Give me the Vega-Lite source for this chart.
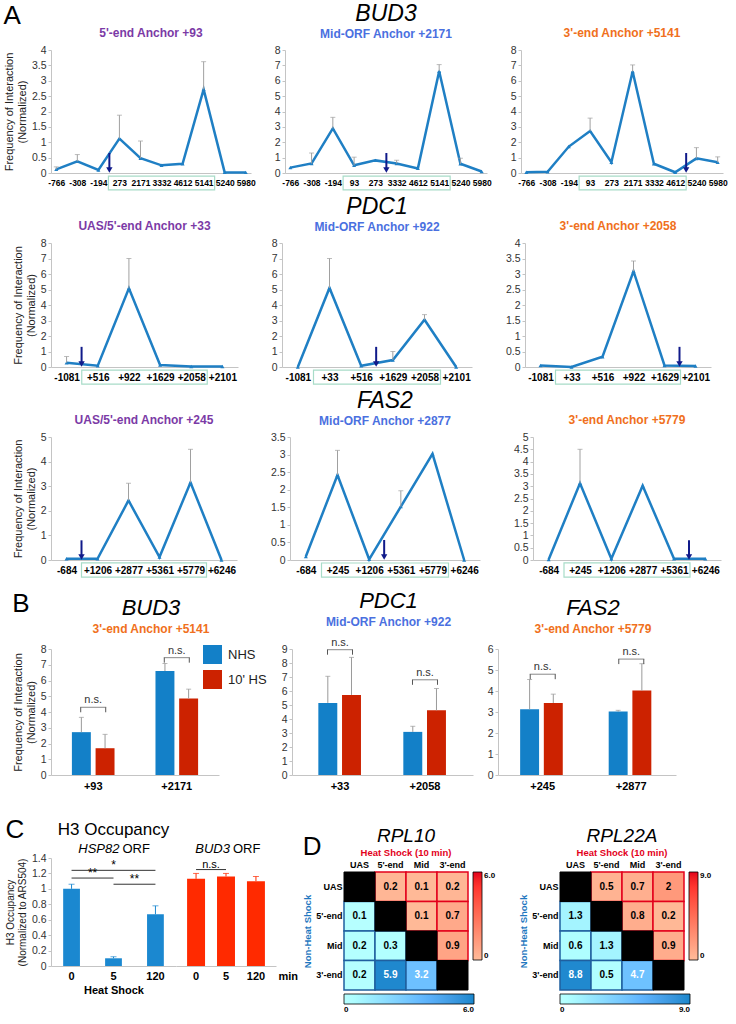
{
"$schema":"https://vega.github.io/schema/vega-lite/v6.json",
"padding":{"left":3,"top":3,"right":3,"bottom":0},
"background":"white",
"config":{"font":"Liberation Sans","view":{"stroke":null},
 "axis":{"grid":false,"domainColor":"#c4c4c4","tickColor":"#c4c4c4","labelColor":"#222","titleFontWeight":"normal","titleColor":"#222","labelFont":"Liberation Sans","titleFont":"Liberation Sans"},
 "title":{"fontWeight":"normal","color":"#000","font":"Liberation Sans","subtitleFont":"Liberation Sans"},
 "tick":{"thickness":1},
 "legend":{"labelFont":"Liberation Sans"}
},
"datasets":{
"L":[
{"p":"A1","x":"-766","v":0.12,"hi":0.2},{"p":"A1","x":"-308","v":0.38,"hi":0.6},{"p":"A1","x":"-194","v":0.1,"arrow":true},{"p":"A1","x":"273","v":1.12,"hi":1.88,"box":"5141"},{"p":"A1","x":"2171","v":0.48,"hi":1.04},{"p":"A1","x":"3332","v":0.25},{"p":"A1","x":"4612","v":0.3},{"p":"A1","x":"5141","v":2.72,"hi":3.62},{"p":"A1","x":"5240","v":0.02},{"p":"A1","x":"5980","v":0.02},
{"p":"A2","x":"-766","v":0.35},{"p":"A2","x":"-308","v":0.62,"hi":1.3},{"p":"A2","x":"-194","v":2.9,"hi":3.62},{"p":"A2","x":"93","v":0.5,"hi":1.03,"box":"5141"},{"p":"A2","x":"273","v":0.82,"arrow":true},{"p":"A2","x":"3332","v":0.62,"hi":0.83},{"p":"A2","x":"4612","v":0.3},{"p":"A2","x":"5141","v":6.62,"hi":7.05},{"p":"A2","x":"5240","v":0.6,"hi":0.96},{"p":"A2","x":"5980","v":0.1},
{"p":"A3","x":"-766","v":0.05},{"p":"A3","x":"-308","v":0.08},{"p":"A3","x":"-194","v":1.72},{"p":"A3","x":"93","v":2.73,"hi":3.57,"box":"4612"},{"p":"A3","x":"273","v":0.7},{"p":"A3","x":"2171","v":6.6,"hi":7.03},{"p":"A3","x":"3332","v":0.6},{"p":"A3","x":"4612","v":0.05,"arrow":true},{"p":"A3","x":"5240","v":0.95,"hi":1.65},{"p":"A3","x":"5980","v":0.7,"hi":1.05},
{"p":"B1","x":"-1081","v":0.28,"hi":0.67,"arrow":true},{"p":"B1","x":"+516","v":0.08,"box":"+2058"},{"p":"B1","x":"+922","v":5.08,"hi":7.0},{"p":"B1","x":"+1629","v":0.13},{"p":"B1","x":"+2058","v":0.03},{"p":"B1","x":"+2101","v":0.03},
{"p":"B2","x":"-1081","v":0},{"p":"B2","x":"+33","v":5.1,"hi":7.0,"box":"+2058"},{"p":"B2","x":"+516","v":0.08,"arrow":true},{"p":"B2","x":"+1629","v":0.45,"hi":1.0},{"p":"B2","x":"+2058","v":3.05,"hi":3.38},{"p":"B2","x":"+2101","v":0},
{"p":"B3","x":"-1081","v":0.05},{"p":"B3","x":"+33","v":0.0,"box":"+1629"},{"p":"B3","x":"+516","v":0.33},{"p":"B3","x":"+922","v":3.09,"hi":3.42},{"p":"B3","x":"+1629","v":0.05,"arrow":true},{"p":"B3","x":"+2101","v":0.03},
{"p":"C1","x":"-684","v":0.05,"arrow":true},{"p":"C1","x":"+1206","v":0.05,"box":"+5779"},{"p":"C1","x":"+2877","v":2.42,"hi":3.12},{"p":"C1","x":"+5361","v":0.12},{"p":"C1","x":"+5779","v":3.15,"hi":4.5},{"p":"C1","x":"+6246","v":0},
{"p":"C2","x":"-684","v":0.1},{"p":"C2","x":"+245","v":2.42,"hi":3.12,"box":"+5779"},{"p":"C2","x":"+1206","v":0.02,"arrow":true},{"p":"C2","x":"+5361","v":1.52,"hi":1.97},{"p":"C2","x":"+5779","v":3.02},{"p":"C2","x":"+6246","v":0},
{"p":"C3","x":"-684","v":0.02},{"p":"C3","x":"+245","v":3.12,"hi":4.5,"box":"+5361"},{"p":"C3","x":"+1206","v":0.05},{"p":"C3","x":"+2877","v":3.02},{"p":"C3","x":"+5361","v":0.05,"arrow":true},{"p":"C3","x":"+6246","v":0.05}
],
"bars":[
{"g":"BUD3","pos":"+93","c":"NHS","v":2.72,"hi":3.66,"ns":4.3},{"g":"BUD3","pos":"+93","c":"10' HS","v":1.7,"hi":2.58},
{"g":"BUD3","pos":"+2171","c":"NHS","v":6.6,"hi":7.08,"ns":7.45},{"g":"BUD3","pos":"+2171","c":"10' HS","v":4.85,"hi":5.45},
{"g":"PDC1","pos":"+33","c":"NHS","v":5.15,"hi":7.05,"ns":8.95},{"g":"PDC1","pos":"+33","c":"10' HS","v":5.72,"hi":8.4},
{"g":"PDC1","pos":"+2058","c":"NHS","v":3.08,"hi":3.48,"ns":6.8},{"g":"PDC1","pos":"+2058","c":"10' HS","v":4.62,"hi":6.18},
{"g":"FAS2","pos":"+245","c":"NHS","v":3.13,"hi":4.55,"ns":4.8},{"g":"FAS2","pos":"+245","c":"10' HS","v":3.43,"hi":3.85},
{"g":"FAS2","pos":"+2877","c":"NHS","v":3.02,"hi":3.08,"ns":5.52},{"g":"FAS2","pos":"+2877","c":"10' HS","v":4.02,"hi":5.3}
],
"h3":[
{"g":"HSP82","t":"0","v":1.0,"hi":1.06},{"g":"HSP82","t":"5","v":0.1,"hi":0.12},{"g":"HSP82","t":"120","v":0.67,"hi":0.78},
{"g":"BUD3","t":"0","v":1.13,"hi":1.2},{"g":"BUD3","t":"5","v":1.16,"hi":1.2},{"g":"BUD3","t":"120","v":1.1,"hi":1.16}
],
"sig":[
{"g":"HSP82","a":"0","b":"120","y":1.24,"s":"*"},{"g":"HSP82","a":"0","b":"5","y":1.14,"s":"**"},{"g":"HSP82","a":"5","b":"120","y":1.06,"s":"**"},
{"g":"BUD3","a":"0","b":"5","y":1.25,"s":"n.s."}
],
"heat":[
{"g":"RPL10","r":"UAS","c":"UAS","t":"d"},{"g":"RPL10","r":"UAS","c":"5'-end","t":"hs","v":0.2},{"g":"RPL10","r":"UAS","c":"Mid","t":"hs","v":0.1},{"g":"RPL10","r":"UAS","c":"3'-end","t":"hs","v":0.2},
{"g":"RPL10","r":"5'-end","c":"UAS","t":"nhs","v":0.1},{"g":"RPL10","r":"5'-end","c":"5'-end","t":"d"},{"g":"RPL10","r":"5'-end","c":"Mid","t":"hs","v":0.1},{"g":"RPL10","r":"5'-end","c":"3'-end","t":"hs","v":0.7},
{"g":"RPL10","r":"Mid","c":"UAS","t":"nhs","v":0.2},{"g":"RPL10","r":"Mid","c":"5'-end","t":"nhs","v":0.3},{"g":"RPL10","r":"Mid","c":"Mid","t":"d"},{"g":"RPL10","r":"Mid","c":"3'-end","t":"hs","v":0.9},
{"g":"RPL10","r":"3'-end","c":"UAS","t":"nhs","v":0.2},{"g":"RPL10","r":"3'-end","c":"5'-end","t":"nhs","v":5.9},{"g":"RPL10","r":"3'-end","c":"Mid","t":"nhs","v":3.2},{"g":"RPL10","r":"3'-end","c":"3'-end","t":"d"},
{"g":"RPL22A","r":"UAS","c":"UAS","t":"d"},{"g":"RPL22A","r":"UAS","c":"5'-end","t":"hs","v":0.5},{"g":"RPL22A","r":"UAS","c":"Mid","t":"hs","v":0.7},{"g":"RPL22A","r":"UAS","c":"3'-end","t":"hs","v":2},
{"g":"RPL22A","r":"5'-end","c":"UAS","t":"nhs","v":1.3},{"g":"RPL22A","r":"5'-end","c":"5'-end","t":"d"},{"g":"RPL22A","r":"5'-end","c":"Mid","t":"hs","v":0.8},{"g":"RPL22A","r":"5'-end","c":"3'-end","t":"hs","v":0.2},
{"g":"RPL22A","r":"Mid","c":"UAS","t":"nhs","v":0.6},{"g":"RPL22A","r":"Mid","c":"5'-end","t":"nhs","v":1.3},{"g":"RPL22A","r":"Mid","c":"Mid","t":"d"},{"g":"RPL22A","r":"Mid","c":"3'-end","t":"hs","v":0.9},
{"g":"RPL22A","r":"3'-end","c":"UAS","t":"nhs","v":8.8},{"g":"RPL22A","r":"3'-end","c":"5'-end","t":"nhs","v":0.5},{"g":"RPL22A","r":"3'-end","c":"Mid","t":"nhs","v":4.7},{"g":"RPL22A","r":"3'-end","c":"3'-end","t":"d"}
]
},
"resolve":{"scale":{"color":"independent","fill":"independent"},"legend":{"color":"independent","fill":"independent"}},
"spacing":11,
"vconcat":[
{
 "title":{"text":"A","anchor":"start","fontSize":26,"offset":-26,"frame":"bounds"},
 "spacing":5,
 "vconcat":[
  {"spacing":18,"hconcat":[
   {"width":200,"height":123,
    "title":{"text":"5'-end Anchor +93","color":"#7b3aa6","fontSize":12,"fontWeight":"bold","offset":5},
    "data":{"name":"L"},"transform":[{"filter":"datum.p=='A1'"}],
    "encoding":{"x":{"field":"x","type":"ordinal","scale":{"type":"point","padding":0.25,"domain":["-766","-308","-194","273","2171","3332","4612","5141","5240","5980"]},"axis":{"title":null,"labelAngle":0,"labelFontWeight":"bold","labelFontSize":8.5,"labelColor":"#000","ticks":false,"labelPadding":5,"labelOverlap":false}}},
    "layer":[
     {"mark":{"type":"line","color":"#1f7fc4","strokeWidth":2.5,"point":{"shape":"triangle-up","size":16,"filled":true,"color":"#1f7fc4"}},"encoding":{"order":{"value":null},"y":{"field":"v","type":"quantitative","scale":{"domain":[0,4],"nice":false},"axis":{"title":["Frequency of Interaction","(Normalized)"],"titleFontSize":11,"titlePadding":4,"labelFontSize":10.5,"labelColor":"#333","tickSize":3,"labelPadding":2,"format":"~g","labelOverlap":false,"tickCount":20,"values":[0,0.5,1,1.5,2,2.5,3,3.5,4]}}}},
     {"transform":[{"filter":"isValid(datum.hi)"}],"mark":{"type":"rule","color":"#a0a0a0"},"encoding":{"y":{"field":"v","type":"quantitative"},"y2":{"field":"hi"}}},
     {"transform":[{"filter":"isValid(datum.hi)"}],"mark":{"type":"tick","color":"#a0a0a0","size":5},"encoding":{"y":{"field":"hi","type":"quantitative"}}},
     {"transform":[{"filter":"isValid(datum.box)"}],"mark":{"type":"rect","fill":"transparent","stroke":"#a8dcc8","strokeWidth":1.2,"xOffset":-11,"x2Offset":11},"encoding":{"x2":{"field":"box"},"y":{"datum":-0.1},"y2":{"datum":-0.55}}},
     {"transform":[{"filter":"datum.arrow"}],"mark":{"type":"rule","color":"#101a8a","strokeWidth":2,"xOffset":11},"encoding":{"y":{"datum":0.65},"y2":{"datum":0.15}}},
     {"transform":[{"filter":"datum.arrow"}],"mark":{"type":"point","shape":"triangle-down","filled":true,"color":"#101a8a","opacity":1,"size":40,"xOffset":11,"yOffset":-3},"encoding":{"y":{"datum":0}}}
    ]},
   {"width":202,"height":123,
    "title":{"text":"BUD3","subtitle":"Mid-ORF Anchor +2171","fontSize":23,"fontStyle":"italic","subtitleColor":"#4a70e0","subtitleFontWeight":"bold","subtitleFontSize":12,"subtitlePadding":3,"offset":5},
    "data":{"name":"L"},"transform":[{"filter":"datum.p=='A2'"}],
    "encoding":{"x":{"field":"x","type":"ordinal","scale":{"type":"point","padding":0.25,"domain":["-766","-308","-194","93","273","3332","4612","5141","5240","5980"]},"axis":{"title":null,"labelAngle":0,"labelFontWeight":"bold","labelFontSize":8.5,"labelColor":"#000","ticks":false,"labelPadding":5,"labelOverlap":false}}},
    "layer":[
     {"mark":{"type":"line","color":"#1f7fc4","strokeWidth":2.5,"point":{"shape":"triangle-up","size":16,"filled":true,"color":"#1f7fc4"}},"encoding":{"order":{"value":null},"y":{"field":"v","type":"quantitative","scale":{"domain":[0,8],"nice":false},"axis":{"title":null,"labelFontSize":10.5,"labelColor":"#333","tickSize":3,"labelPadding":2,"format":"~g","labelOverlap":false,"tickCount":20,"values":[0,1,2,3,4,5,6,7,8]}}}},
     {"transform":[{"filter":"isValid(datum.hi)"}],"mark":{"type":"rule","color":"#a0a0a0"},"encoding":{"y":{"field":"v","type":"quantitative"},"y2":{"field":"hi"}}},
     {"transform":[{"filter":"isValid(datum.hi)"}],"mark":{"type":"tick","color":"#a0a0a0","size":5},"encoding":{"y":{"field":"hi","type":"quantitative"}}},
     {"transform":[{"filter":"isValid(datum.box)"}],"mark":{"type":"rect","fill":"transparent","stroke":"#a8dcc8","strokeWidth":1.2,"xOffset":-11,"x2Offset":11},"encoding":{"x2":{"field":"box"},"y":{"datum":-0.2},"y2":{"datum":-1.1}}},
     {"transform":[{"filter":"datum.arrow"}],"mark":{"type":"rule","color":"#101a8a","strokeWidth":2,"xOffset":11},"encoding":{"y":{"datum":1.3},"y2":{"datum":0.3}}},
     {"transform":[{"filter":"datum.arrow"}],"mark":{"type":"point","shape":"triangle-down","filled":true,"color":"#101a8a","opacity":1,"size":40,"xOffset":11,"yOffset":-3},"encoding":{"y":{"datum":0}}}
    ]},
   {"width":202,"height":123,
    "title":{"text":"3'-end Anchor +5141","color":"#f07020","fontSize":12,"fontWeight":"bold","offset":5},
    "data":{"name":"L"},"transform":[{"filter":"datum.p=='A3'"}],
    "encoding":{"x":{"field":"x","type":"ordinal","scale":{"type":"point","padding":0.25,"domain":["-766","-308","-194","93","273","2171","3332","4612","5240","5980"]},"axis":{"title":null,"labelAngle":0,"labelFontWeight":"bold","labelFontSize":8.5,"labelColor":"#000","ticks":false,"labelPadding":5,"labelOverlap":false}}},
    "layer":[
     {"mark":{"type":"line","color":"#1f7fc4","strokeWidth":2.5,"point":{"shape":"triangle-up","size":16,"filled":true,"color":"#1f7fc4"}},"encoding":{"order":{"value":null},"y":{"field":"v","type":"quantitative","scale":{"domain":[0,8],"nice":false},"axis":{"title":null,"labelFontSize":10.5,"labelColor":"#333","tickSize":3,"labelPadding":2,"format":"~g","labelOverlap":false,"tickCount":20,"values":[0,1,2,3,4,5,6,7,8]}}}},
     {"transform":[{"filter":"isValid(datum.hi)"}],"mark":{"type":"rule","color":"#a0a0a0"},"encoding":{"y":{"field":"v","type":"quantitative"},"y2":{"field":"hi"}}},
     {"transform":[{"filter":"isValid(datum.hi)"}],"mark":{"type":"tick","color":"#a0a0a0","size":5},"encoding":{"y":{"field":"hi","type":"quantitative"}}},
     {"transform":[{"filter":"isValid(datum.box)"}],"mark":{"type":"rect","fill":"transparent","stroke":"#a8dcc8","strokeWidth":1.2,"xOffset":-11,"x2Offset":11},"encoding":{"x2":{"field":"box"},"y":{"datum":-0.2},"y2":{"datum":-1.1}}},
     {"transform":[{"filter":"datum.arrow"}],"mark":{"type":"rule","color":"#101a8a","strokeWidth":2,"xOffset":11},"encoding":{"y":{"datum":1.3},"y2":{"datum":0.3}}},
     {"transform":[{"filter":"datum.arrow"}],"mark":{"type":"point","shape":"triangle-down","filled":true,"color":"#101a8a","opacity":1,"size":40,"xOffset":11,"yOffset":-3},"encoding":{"y":{"datum":0}}}
    ]}
  ]},
  {"spacing":33,"hconcat":[
   {"width":187,"height":124,
    "title":{"text":"UAS/5'-end Anchor +33","color":"#7b3aa6","fontSize":12,"fontWeight":"bold","offset":5},
    "data":{"name":"L"},"transform":[{"filter":"datum.p=='B1'"}],
    "encoding":{"x":{"field":"x","type":"ordinal","scale":{"type":"point","padding":0.5,"domain":["-1081","+516","+922","+1629","+2058","+2101"]},"axis":{"title":null,"labelAngle":0,"labelFontWeight":"bold","labelFontSize":10,"labelColor":"#000","ticks":false,"labelPadding":5,"labelOverlap":false}}},
    "layer":[
     {"mark":{"type":"line","color":"#1f7fc4","strokeWidth":2.5,"point":{"shape":"triangle-up","size":16,"filled":true,"color":"#1f7fc4"}},"encoding":{"order":{"value":null},"y":{"field":"v","type":"quantitative","scale":{"domain":[0,8],"nice":false},"axis":{"title":["Frequency of Interaction","(Normalized)"],"titleFontSize":11,"titlePadding":4,"labelFontSize":10.5,"labelColor":"#333","tickSize":3,"labelPadding":2,"format":"~g","labelOverlap":false,"tickCount":20,"values":[0,1,2,3,4,5,6,7,8]}}}},
     {"transform":[{"filter":"isValid(datum.hi)"}],"mark":{"type":"rule","color":"#a0a0a0"},"encoding":{"y":{"field":"v","type":"quantitative"},"y2":{"field":"hi"}}},
     {"transform":[{"filter":"isValid(datum.hi)"}],"mark":{"type":"tick","color":"#a0a0a0","size":5},"encoding":{"y":{"field":"hi","type":"quantitative"}}},
     {"transform":[{"filter":"isValid(datum.box)"}],"mark":{"type":"rect","fill":"transparent","stroke":"#a8dcc8","strokeWidth":1.2,"xOffset":-16,"x2Offset":16},"encoding":{"x2":{"field":"box"},"y":{"datum":-0.2},"y2":{"datum":-1.1}}},
     {"transform":[{"filter":"datum.arrow"}],"mark":{"type":"rule","color":"#101a8a","strokeWidth":2,"xOffset":15},"encoding":{"y":{"datum":1.3},"y2":{"datum":0.3}}},
     {"transform":[{"filter":"datum.arrow"}],"mark":{"type":"point","shape":"triangle-down","filled":true,"color":"#101a8a","opacity":1,"size":40,"xOffset":15,"yOffset":-3},"encoding":{"y":{"datum":0}}}
    ]},
   {"width":190,"height":124,
    "title":{"text":"PDC1","subtitle":"Mid-ORF Anchor +922","fontSize":23,"fontStyle":"italic","subtitleColor":"#4a70e0","subtitleFontWeight":"bold","subtitleFontSize":12,"subtitlePadding":3,"offset":5},
    "data":{"name":"L"},"transform":[{"filter":"datum.p=='B2'"}],
    "encoding":{"x":{"field":"x","type":"ordinal","scale":{"type":"point","padding":0.5,"domain":["-1081","+33","+516","+1629","+2058","+2101"]},"axis":{"title":null,"labelAngle":0,"labelFontWeight":"bold","labelFontSize":10,"labelColor":"#000","ticks":false,"labelPadding":5,"labelOverlap":false}}},
    "layer":[
     {"mark":{"type":"line","color":"#1f7fc4","strokeWidth":2.5,"point":{"shape":"triangle-up","size":16,"filled":true,"color":"#1f7fc4"}},"encoding":{"order":{"value":null},"y":{"field":"v","type":"quantitative","scale":{"domain":[0,8],"nice":false},"axis":{"title":null,"labelFontSize":10.5,"labelColor":"#333","tickSize":3,"labelPadding":2,"format":"~g","labelOverlap":false,"tickCount":20,"values":[0,1,2,3,4,5,6,7,8]}}}},
     {"transform":[{"filter":"isValid(datum.hi)"}],"mark":{"type":"rule","color":"#a0a0a0"},"encoding":{"y":{"field":"v","type":"quantitative"},"y2":{"field":"hi"}}},
     {"transform":[{"filter":"isValid(datum.hi)"}],"mark":{"type":"tick","color":"#a0a0a0","size":5},"encoding":{"y":{"field":"hi","type":"quantitative"}}},
     {"transform":[{"filter":"isValid(datum.box)"}],"mark":{"type":"rect","fill":"transparent","stroke":"#a8dcc8","strokeWidth":1.2,"xOffset":-16,"x2Offset":16},"encoding":{"x2":{"field":"box"},"y":{"datum":-0.2},"y2":{"datum":-1.1}}},
     {"transform":[{"filter":"datum.arrow"}],"mark":{"type":"rule","color":"#101a8a","strokeWidth":2,"xOffset":15},"encoding":{"y":{"datum":1.3},"y2":{"datum":0.3}}},
     {"transform":[{"filter":"datum.arrow"}],"mark":{"type":"point","shape":"triangle-down","filled":true,"color":"#101a8a","opacity":1,"size":40,"xOffset":15,"yOffset":-3},"encoding":{"y":{"datum":0}}}
    ]},
   {"width":186,"height":124,
    "title":{"text":"3'-end Anchor +2058","color":"#f07020","fontSize":12,"fontWeight":"bold","offset":5},
    "data":{"name":"L"},"transform":[{"filter":"datum.p=='B3'"}],
    "encoding":{"x":{"field":"x","type":"ordinal","scale":{"type":"point","padding":0.5,"domain":["-1081","+33","+516","+922","+1629","+2101"]},"axis":{"title":null,"labelAngle":0,"labelFontWeight":"bold","labelFontSize":10,"labelColor":"#000","ticks":false,"labelPadding":5,"labelOverlap":false}}},
    "layer":[
     {"mark":{"type":"line","color":"#1f7fc4","strokeWidth":2.5,"point":{"shape":"triangle-up","size":16,"filled":true,"color":"#1f7fc4"}},"encoding":{"order":{"value":null},"y":{"field":"v","type":"quantitative","scale":{"domain":[0,4],"nice":false},"axis":{"title":null,"labelFontSize":10.5,"labelColor":"#333","tickSize":3,"labelPadding":2,"format":"~g","labelOverlap":false,"tickCount":20,"values":[0,0.5,1,1.5,2,2.5,3,3.5,4]}}}},
     {"transform":[{"filter":"isValid(datum.hi)"}],"mark":{"type":"rule","color":"#a0a0a0"},"encoding":{"y":{"field":"v","type":"quantitative"},"y2":{"field":"hi"}}},
     {"transform":[{"filter":"isValid(datum.hi)"}],"mark":{"type":"tick","color":"#a0a0a0","size":5},"encoding":{"y":{"field":"hi","type":"quantitative"}}},
     {"transform":[{"filter":"isValid(datum.box)"}],"mark":{"type":"rect","fill":"transparent","stroke":"#a8dcc8","strokeWidth":1.2,"xOffset":-16,"x2Offset":16},"encoding":{"x2":{"field":"box"},"y":{"datum":-0.1},"y2":{"datum":-0.55}}},
     {"transform":[{"filter":"datum.arrow"}],"mark":{"type":"rule","color":"#101a8a","strokeWidth":2,"xOffset":15},"encoding":{"y":{"datum":0.65},"y2":{"datum":0.15}}},
     {"transform":[{"filter":"datum.arrow"}],"mark":{"type":"point","shape":"triangle-down","filled":true,"color":"#101a8a","opacity":1,"size":40,"xOffset":15,"yOffset":-3},"encoding":{"y":{"datum":0}}}
    ]}
  ]},
  {"spacing":33,"hconcat":[
   {"width":186,"height":123,
    "title":{"text":"UAS/5'-end Anchor +245","color":"#7b3aa6","fontSize":12,"fontWeight":"bold","offset":5},
    "data":{"name":"L"},"transform":[{"filter":"datum.p=='C1'"}],
    "encoding":{"x":{"field":"x","type":"ordinal","scale":{"type":"point","padding":0.5,"domain":["-684","+1206","+2877","+5361","+5779","+6246"]},"axis":{"title":null,"labelAngle":0,"labelFontWeight":"bold","labelFontSize":10,"labelColor":"#000","ticks":false,"labelPadding":5,"labelOverlap":false}}},
    "layer":[
     {"mark":{"type":"line","color":"#1f7fc4","strokeWidth":2.5,"point":{"shape":"triangle-up","size":16,"filled":true,"color":"#1f7fc4"}},"encoding":{"order":{"value":null},"y":{"field":"v","type":"quantitative","scale":{"domain":[0,5],"nice":false},"axis":{"title":["Frequency of Interaction","(Normalized)"],"titleFontSize":11,"titlePadding":4,"labelFontSize":10.5,"labelColor":"#333","tickSize":3,"labelPadding":2,"format":"~g","labelOverlap":false,"tickCount":20,"values":[0,1,2,3,4,5]}}}},
     {"transform":[{"filter":"isValid(datum.hi)"}],"mark":{"type":"rule","color":"#a0a0a0"},"encoding":{"y":{"field":"v","type":"quantitative"},"y2":{"field":"hi"}}},
     {"transform":[{"filter":"isValid(datum.hi)"}],"mark":{"type":"tick","color":"#a0a0a0","size":5},"encoding":{"y":{"field":"hi","type":"quantitative"}}},
     {"transform":[{"filter":"isValid(datum.box)"}],"mark":{"type":"rect","fill":"transparent","stroke":"#a8dcc8","strokeWidth":1.2,"xOffset":-16,"x2Offset":16},"encoding":{"x2":{"field":"box"},"y":{"datum":-0.12},"y2":{"datum":-0.7}}},
     {"transform":[{"filter":"datum.arrow"}],"mark":{"type":"rule","color":"#101a8a","strokeWidth":2,"xOffset":15},"encoding":{"y":{"datum":0.8},"y2":{"datum":0.2}}},
     {"transform":[{"filter":"datum.arrow"}],"mark":{"type":"point","shape":"triangle-down","filled":true,"color":"#101a8a","opacity":1,"size":40,"xOffset":15,"yOffset":-3},"encoding":{"y":{"datum":0}}}
    ]},
   {"width":190,"height":123,
    "title":{"text":"FAS2","subtitle":"Mid-ORF Anchor +2877","fontSize":23,"fontStyle":"italic","subtitleColor":"#4a70e0","subtitleFontWeight":"bold","subtitleFontSize":12,"subtitlePadding":3,"offset":5},
    "data":{"name":"L"},"transform":[{"filter":"datum.p=='C2'"}],
    "encoding":{"x":{"field":"x","type":"ordinal","scale":{"type":"point","padding":0.5,"domain":["-684","+245","+1206","+5361","+5779","+6246"]},"axis":{"title":null,"labelAngle":0,"labelFontWeight":"bold","labelFontSize":10,"labelColor":"#000","ticks":false,"labelPadding":5,"labelOverlap":false}}},
    "layer":[
     {"mark":{"type":"line","color":"#1f7fc4","strokeWidth":2.5,"point":{"shape":"triangle-up","size":16,"filled":true,"color":"#1f7fc4"}},"encoding":{"order":{"value":null},"y":{"field":"v","type":"quantitative","scale":{"domain":[0,3.5],"nice":false},"axis":{"title":null,"labelFontSize":10.5,"labelColor":"#333","tickSize":3,"labelPadding":2,"format":"~g","labelOverlap":false,"tickCount":20,"values":[0,0.5,1,1.5,2,2.5,3,3.5]}}}},
     {"transform":[{"filter":"isValid(datum.hi)"}],"mark":{"type":"rule","color":"#a0a0a0"},"encoding":{"y":{"field":"v","type":"quantitative"},"y2":{"field":"hi"}}},
     {"transform":[{"filter":"isValid(datum.hi)"}],"mark":{"type":"tick","color":"#a0a0a0","size":5},"encoding":{"y":{"field":"hi","type":"quantitative"}}},
     {"transform":[{"filter":"isValid(datum.box)"}],"mark":{"type":"rect","fill":"transparent","stroke":"#a8dcc8","strokeWidth":1.2,"xOffset":-16,"x2Offset":16},"encoding":{"x2":{"field":"box"},"y":{"datum":-0.085},"y2":{"datum":-0.49}}},
     {"transform":[{"filter":"datum.arrow"}],"mark":{"type":"rule","color":"#101a8a","strokeWidth":2,"xOffset":15},"encoding":{"y":{"datum":0.57},"y2":{"datum":0.14}}},
     {"transform":[{"filter":"datum.arrow"}],"mark":{"type":"point","shape":"triangle-down","filled":true,"color":"#101a8a","opacity":1,"size":40,"xOffset":15,"yOffset":-3},"encoding":{"y":{"datum":0}}}
    ]},
   {"width":188,"height":123,
    "title":{"text":"3'-end Anchor +5779","color":"#f07020","fontSize":12,"fontWeight":"bold","offset":5},
    "data":{"name":"L"},"transform":[{"filter":"datum.p=='C3'"}],
    "encoding":{"x":{"field":"x","type":"ordinal","scale":{"type":"point","padding":0.5,"domain":["-684","+245","+1206","+2877","+5361","+6246"]},"axis":{"title":null,"labelAngle":0,"labelFontWeight":"bold","labelFontSize":10,"labelColor":"#000","ticks":false,"labelPadding":5,"labelOverlap":false}}},
    "layer":[
     {"mark":{"type":"line","color":"#1f7fc4","strokeWidth":2.5,"point":{"shape":"triangle-up","size":16,"filled":true,"color":"#1f7fc4"}},"encoding":{"order":{"value":null},"y":{"field":"v","type":"quantitative","scale":{"domain":[0,5],"nice":false},"axis":{"title":null,"labelFontSize":10.5,"labelColor":"#333","tickSize":3,"labelPadding":2,"format":"~g","labelOverlap":false,"tickCount":20,"values":[0,0.5,1,1.5,2,2.5,3,3.5,4,4.5,5]}}}},
     {"transform":[{"filter":"isValid(datum.hi)"}],"mark":{"type":"rule","color":"#a0a0a0"},"encoding":{"y":{"field":"v","type":"quantitative"},"y2":{"field":"hi"}}},
     {"transform":[{"filter":"isValid(datum.hi)"}],"mark":{"type":"tick","color":"#a0a0a0","size":5},"encoding":{"y":{"field":"hi","type":"quantitative"}}},
     {"transform":[{"filter":"isValid(datum.box)"}],"mark":{"type":"rect","fill":"transparent","stroke":"#a8dcc8","strokeWidth":1.2,"xOffset":-16,"x2Offset":16},"encoding":{"x2":{"field":"box"},"y":{"datum":-0.12},"y2":{"datum":-0.7}}},
     {"transform":[{"filter":"datum.arrow"}],"mark":{"type":"rule","color":"#101a8a","strokeWidth":2,"xOffset":15},"encoding":{"y":{"datum":0.8},"y2":{"datum":0.2}}},
     {"transform":[{"filter":"datum.arrow"}],"mark":{"type":"point","shape":"triangle-down","filled":true,"color":"#101a8a","opacity":1,"size":40,"xOffset":15,"yOffset":-3},"encoding":{"y":{"datum":0}}}
    ]}
  ]}
 ]
},
{
 "title":{"text":"B","anchor":"start","fontSize":26,"offset":-27,"frame":"bounds"},
 "spacing":14,
 "resolve":{"scale":{"color":"independent"},"legend":{"color":"independent"}},
 "hconcat":[
  {"width":168,"height":126,
   "title":{"text":"BUD3","subtitle":"3'-end Anchor +5141","fontSize":22,"fontStyle":"italic","subtitleColor":"#f07020","subtitleFontWeight":"bold","subtitleFontSize":12,"subtitlePadding":4,"offset":8,"frame":"group","dx":16},
   "data":{"name":"bars"},"transform":[{"filter":"datum.g=='BUD3'"}],
   "encoding":{"x":{"field":"pos","type":"nominal","sort":null,"scale":{"paddingInner":0.49,"paddingOuter":0.25},"axis":{"title":null,"labelAngle":0,"labelFontWeight":"bold","labelFontSize":11,"labelColor":"#000","ticks":false,"labelPadding":5}}},
   "layer":[
    {"mark":{"type":"bar"},"encoding":{"xOffset":{"field":"c","sort":["NHS","10' HS"],"scale":{"paddingInner":0.2}},"y":{"field":"v","type":"quantitative","scale":{"domain":[0,8],"nice":false},"axis":{"title":["Frequency of Interaction","(Normalized)"],"titleFontSize":11,"titlePadding":4,"labelFontSize":10.5,"labelColor":"#333","tickSize":3,"labelPadding":2,"format":"~g","labelOverlap":false,"tickCount":20,"values":[0,1,2,3,4,5,6,7,8]}},"color":{"field":"c","type":"nominal","scale":{"domain":["NHS","10' HS"],"range":["#1380c8","#cc2200"]},"legend":{"orient":"none","legendX":152,"legendY":-4,"title":null,"symbolType":"square","symbolSize":360,"labelFontSize":13,"labelColor":"#222","rowPadding":6,"symbolStrokeWidth":0,"labelOffset":6}}}},
    {"mark":{"type":"rule","color":"#9a9a9a"},"encoding":{"xOffset":{"field":"c","sort":["NHS","10' HS"]},"y":{"field":"v","type":"quantitative"},"y2":{"field":"hi"}}},
    {"mark":{"type":"tick","color":"#9a9a9a","size":5},"encoding":{"xOffset":{"field":"c","sort":["NHS","10' HS"]},"y":{"field":"hi","type":"quantitative"}}},
    {"transform":[{"filter":"isValid(datum.ns)"}],"mark":{"type":"tick","color":"#555","size":26},"encoding":{"y":{"field":"ns","type":"quantitative"}}},
    {"transform":[{"filter":"isValid(datum.ns)"}],"mark":{"type":"rule","color":"#555","xOffset":-12.5,"y2Offset":5},"encoding":{"y":{"field":"ns","type":"quantitative"},"y2":{"field":"ns"}}},
    {"transform":[{"filter":"isValid(datum.ns)"}],"mark":{"type":"rule","color":"#555","xOffset":12.5,"y2Offset":5},"encoding":{"y":{"field":"ns","type":"quantitative"},"y2":{"field":"ns"}}},
    {"transform":[{"filter":"isValid(datum.ns)"}],"mark":{"type":"text","dy":-7,"fontSize":11,"color":"#333"},"encoding":{"y":{"field":"ns","type":"quantitative"},"text":{"value":"n.s."}}}
   ]},
  {"width":181,"height":126,
   "title":{"text":"PDC1","subtitle":"Mid-ORF Anchor +922","fontSize":22,"fontStyle":"italic","subtitleColor":"#4a70e0","subtitleFontWeight":"bold","subtitleFontSize":12,"subtitlePadding":4,"offset":8,"frame":"group","dx":6},
   "data":{"name":"bars"},"transform":[{"filter":"datum.g=='PDC1'"}],
   "encoding":{"x":{"field":"pos","type":"nominal","sort":null,"scale":{"paddingInner":0.49,"paddingOuter":0.31},"axis":{"title":null,"labelAngle":0,"labelFontWeight":"bold","labelFontSize":11,"labelColor":"#000","ticks":false,"labelPadding":5}}},
   "layer":[
    {"mark":{"type":"bar"},"encoding":{"xOffset":{"field":"c","sort":["NHS","10' HS"],"scale":{"paddingInner":0.2}},"y":{"field":"v","type":"quantitative","scale":{"domain":[0,9],"nice":false},"axis":{"title":null,"labelFontSize":10.5,"labelColor":"#333","tickSize":3,"labelPadding":2,"format":"~g","labelOverlap":false,"tickCount":20,"values":[0,1,2,3,4,5,6,7,8,9]}},"color":{"field":"c","type":"nominal","scale":{"domain":["NHS","10' HS"],"range":["#1380c8","#cc2200"]},"legend":null}}},
    {"mark":{"type":"rule","color":"#9a9a9a"},"encoding":{"xOffset":{"field":"c","sort":["NHS","10' HS"]},"y":{"field":"v","type":"quantitative"},"y2":{"field":"hi"}}},
    {"mark":{"type":"tick","color":"#9a9a9a","size":5},"encoding":{"xOffset":{"field":"c","sort":["NHS","10' HS"]},"y":{"field":"hi","type":"quantitative"}}},
    {"transform":[{"filter":"isValid(datum.ns)"}],"mark":{"type":"tick","color":"#555","size":26},"encoding":{"y":{"field":"ns","type":"quantitative"}}},
    {"transform":[{"filter":"isValid(datum.ns)"}],"mark":{"type":"rule","color":"#555","xOffset":-12.5,"y2Offset":5},"encoding":{"y":{"field":"ns","type":"quantitative"},"y2":{"field":"ns"}}},
    {"transform":[{"filter":"isValid(datum.ns)"}],"mark":{"type":"rule","color":"#555","xOffset":12.5,"y2Offset":5},"encoding":{"y":{"field":"ns","type":"quantitative"},"y2":{"field":"ns"}}},
    {"transform":[{"filter":"isValid(datum.ns)"}],"mark":{"type":"text","dy":-7,"fontSize":11,"color":"#333"},"encoding":{"y":{"field":"ns","type":"quantitative"},"text":{"value":"n.s."}}}
   ]},
  {"width":178,"height":126,
   "title":{"text":"FAS2","subtitle":"3'-end Anchor +5779","fontSize":22,"fontStyle":"italic","subtitleColor":"#f07020","subtitleFontWeight":"bold","subtitleFontSize":12,"subtitlePadding":4,"offset":8,"frame":"group","dx":6},
   "data":{"name":"bars"},"transform":[{"filter":"datum.g=='FAS2'"}],
   "encoding":{"x":{"field":"pos","type":"nominal","sort":null,"scale":{"paddingInner":0.49,"paddingOuter":0.25},"axis":{"title":null,"labelAngle":0,"labelFontWeight":"bold","labelFontSize":11,"labelColor":"#000","ticks":false,"labelPadding":5}}},
   "layer":[
    {"mark":{"type":"bar"},"encoding":{"xOffset":{"field":"c","sort":["NHS","10' HS"],"scale":{"paddingInner":0.2}},"y":{"field":"v","type":"quantitative","scale":{"domain":[0,6],"nice":false},"axis":{"title":null,"labelFontSize":10.5,"labelColor":"#333","tickSize":3,"labelPadding":2,"format":"~g","labelOverlap":false,"tickCount":20,"values":[0,1,2,3,4,5,6]}},"color":{"field":"c","type":"nominal","scale":{"domain":["NHS","10' HS"],"range":["#1380c8","#cc2200"]},"legend":null}}},
    {"mark":{"type":"rule","color":"#9a9a9a"},"encoding":{"xOffset":{"field":"c","sort":["NHS","10' HS"]},"y":{"field":"v","type":"quantitative"},"y2":{"field":"hi"}}},
    {"mark":{"type":"tick","color":"#9a9a9a","size":5},"encoding":{"xOffset":{"field":"c","sort":["NHS","10' HS"]},"y":{"field":"hi","type":"quantitative"}}},
    {"transform":[{"filter":"isValid(datum.ns)"}],"mark":{"type":"tick","color":"#555","size":26},"encoding":{"y":{"field":"ns","type":"quantitative"}}},
    {"transform":[{"filter":"isValid(datum.ns)"}],"mark":{"type":"rule","color":"#555","xOffset":-12.5,"y2Offset":5},"encoding":{"y":{"field":"ns","type":"quantitative"},"y2":{"field":"ns"}}},
    {"transform":[{"filter":"isValid(datum.ns)"}],"mark":{"type":"rule","color":"#555","xOffset":12.5,"y2Offset":5},"encoding":{"y":{"field":"ns","type":"quantitative"},"y2":{"field":"ns"}}},
    {"transform":[{"filter":"isValid(datum.ns)"}],"mark":{"type":"text","dy":-7,"fontSize":11,"color":"#333"},"encoding":{"y":{"field":"ns","type":"quantitative"},"text":{"value":"n.s."}}}
   ]}
 ]
},
{
 "spacing":4,
 "resolve":{"scale":{"color":"independent","fill":"independent"},"legend":{"color":"independent","fill":"independent"}},
 "hconcat":[
  {
   "title":{"text":"C","anchor":"start","fontSize":26,"offset":-41,"frame":"bounds"},
   "spacing":0,
   "vconcat":[
    {"width":10,"height":18,"data":{"values":[]},"mark":"point","encoding":{}},
    {"spacing":0,
     "hconcat":[
      {"width":125,"height":108,
       "title":{"text":"H3 Occupancy","fontSize":17,"offset":4,"frame":"group"},
       "data":{"name":"h3"},"transform":[{"filter":"datum.g=='HSP82'"}],
       "encoding":{"x":{"field":"t","type":"ordinal","scale":{"domain":["0","5","120"],"paddingInner":0.6,"paddingOuter":0.29},"axis":{"title":"Heat Shock","titleFontWeight":"bold","titleFontSize":11,"titleColor":"#000","titlePadding":3,"labelAngle":0,"labelFontWeight":"bold","labelFontSize":11,"labelColor":"#000","ticks":false,"labelPadding":4}}},
       "layer":[
        {"mark":{"type":"bar","color":"#1b88d0"},"encoding":{"y":{"field":"v","type":"quantitative","scale":{"domain":[0,1.4],"nice":false},"axis":{"title":["H3 Occupancy","(Normalized to ARS504)"],"titleFontSize":10,"titlePadding":4,"values":[0,0.2,0.4,0.6,0.8,1,1.2,1.4],"tickCount":20,"format":"~g","labelOverlap":false,"labelFontSize":10.5,"labelColor":"#333","tickSize":3,"labelPadding":2}}}},
        {"mark":{"type":"rule","color":"#1b88d0"},"encoding":{"y":{"field":"v","type":"quantitative"},"y2":{"field":"hi"}}},
        {"mark":{"type":"tick","color":"#1b88d0","size":6},"encoding":{"y":{"field":"hi","type":"quantitative"}}},
        {"data":{"name":"sig"},"transform":[{"filter":"datum.g=='HSP82'"}],"mark":{"type":"rule","color":"#333"},"encoding":{"x":{"field":"a","type":"ordinal"},"x2":{"field":"b"},"y":{"field":"y","type":"quantitative"}}},
        {"data":{"name":"sig"},"transform":[{"filter":"datum.g=='HSP82' && datum.s=='*'"}],"mark":{"type":"text","dy":-5,"fontSize":12},"encoding":{"x":{"datum":"5"},"y":{"field":"y","type":"quantitative"},"text":{"field":"s"}}},
        {"data":{"name":"sig"},"transform":[{"filter":"datum.g=='HSP82' && datum.s=='**'"}],"mark":{"type":"text","dy":-5,"dx":21,"fontSize":12},"encoding":{"x":{"field":"a","type":"ordinal"},"y":{"field":"y","type":"quantitative"},"text":{"field":"s"}}},
        {"data":{"values":[{"lab":"HSP82"}]},"mark":{"type":"text","fontStyle":"italic","fontSize":13,"align":"right","dx":6},"encoding":{"x":{"datum":"5"},"y":{"datum":1.52},"text":{"field":"lab"}}},
        {"data":{"values":[{"lab":"ORF"}]},"mark":{"type":"text","fontSize":13,"align":"left","dx":9},"encoding":{"x":{"datum":"5"},"y":{"datum":1.52},"text":{"field":"lab"}}}
       ]},
      {"width":100,"height":108,
       "data":{"name":"h3"},"transform":[{"filter":"datum.g=='BUD3'"}],
       "encoding":{"x":{"field":"t","type":"ordinal","scale":{"domain":["0","5","120"],"paddingInner":0.4,"paddingOuter":0.37},"axis":{"title":"min","titleFontWeight":"bold","titleFontSize":11,"titleColor":"#000","titleAnchor":"end","titleAngle":0,"titleAlign":"left","titleX":102,"titleY":4,"titleBaseline":"top","labelAngle":0,"labelFontWeight":"bold","labelFontSize":11,"labelColor":"#000","ticks":false,"labelPadding":4}}},
       "layer":[
        {"mark":{"type":"bar","color":"#ff2a00"},"encoding":{"y":{"field":"v","type":"quantitative","scale":{"domain":[0,1.4],"nice":false},"axis":null}}},
        {"mark":{"type":"rule","color":"#ff2a00"},"encoding":{"y":{"field":"v","type":"quantitative"},"y2":{"field":"hi"}}},
        {"mark":{"type":"tick","color":"#ff2a00","size":6},"encoding":{"y":{"field":"hi","type":"quantitative"}}},
        {"data":{"name":"sig"},"transform":[{"filter":"datum.g=='BUD3'"}],"mark":{"type":"rule","color":"#333"},"encoding":{"x":{"field":"a","type":"ordinal"},"x2":{"field":"b"},"y":{"field":"y","type":"quantitative"}}},
        {"data":{"name":"sig"},"transform":[{"filter":"datum.g=='BUD3'"}],"mark":{"type":"text","dy":-5,"dx":15,"fontSize":11},"encoding":{"x":{"field":"a","type":"ordinal"},"y":{"field":"y","type":"quantitative"},"text":{"field":"s"}}},
        {"data":{"values":[{"lab":"BUD3"}]},"mark":{"type":"text","fontStyle":"italic","fontSize":13,"align":"right","dx":4},"encoding":{"x":{"datum":"5"},"y":{"datum":1.52},"text":{"field":"lab"}}},
        {"data":{"values":[{"lab":"ORF"}]},"mark":{"type":"text","fontSize":13,"align":"left","dx":7},"encoding":{"x":{"datum":"5"},"y":{"datum":1.52},"text":{"field":"lab"}}}
       ]}
     ]}
   ]
  },
  {
   "title":{"text":"D","anchor":"start","fontSize":26,"offset":-58,"frame":"bounds"},
   "spacing":0,
   "resolve":{"scale":{"color":"independent","fill":"independent"},"legend":{"color":"independent","fill":"independent"}},
   "vconcat":[
    {"width":10,"height":24,"data":{"values":[]},"mark":"point","encoding":{}},
    {"spacing":22,
     "resolve":{"scale":{"color":"independent","fill":"independent"},"legend":{"color":"independent","fill":"independent"}},
     "hconcat":[
      {"width":124,"height":118,
       "title":{"text":"RPL10","subtitle":"Heat Shock (10 min)","fontSize":19,"fontStyle":"italic","subtitleColor":"#e3001b","subtitleFontWeight":"bold","subtitleFontSize":9.5,"subtitlePadding":2,"offset":3,"frame":"group"},
       "data":{"name":"heat"},"transform":[{"filter":"datum.g=='RPL10'"}],
       "encoding":{
        "x":{"field":"c","type":"ordinal","scale":{"domain":["UAS","5'-end","Mid","3'-end"],"paddingInner":0,"paddingOuter":0},"axis":{"orient":"top","title":null,"labelAngle":0,"labelFontWeight":"bold","labelFontSize":9,"labelColor":"#000","ticks":false,"domain":false,"labelPadding":3}},
        "y":{"field":"r","type":"ordinal","scale":{"domain":["UAS","5'-end","Mid","3'-end"],"paddingInner":0,"paddingOuter":0},"axis":{"title":"Non-Heat Shock","titleColor":"#1f78c0","titleFontWeight":"bold","titleFontSize":9.5,"titlePadding":3,"labelFontWeight":"bold","labelFontSize":9,"labelColor":"#000","ticks":false,"domain":false,"labelPadding":2}}
       },
       "layer":[
        {"transform":[{"filter":"datum.t=='hs'"}],"mark":{"type":"rect","stroke":"#e3001b","strokeWidth":1.5},"encoding":{"color":{"field":"v","type":"quantitative","scale":{"domain":[0,6],"range":["#ffffff","#e3001b"]},"legend":{"orient":"right","direction":"vertical","gradientLength":88,"gradientThickness":9,"title":null,"values":[0,6],"labelExpr":"datum.value==0?'0':format(datum.value,'.1f')","labelFontSize":8,"labelFontWeight":"bold","gradientStrokeColor":"#000","gradientStrokeWidth":0.8,"offset":5}}}},
        {"transform":[{"filter":"datum.t=='nhs'"}],"mark":{"type":"rect","stroke":"#1f5f9f","strokeWidth":1.5},"encoding":{"fill":{"field":"v","type":"quantitative","scale":{"domain":[0,6],"range":["#ffffff","#1a86cc"]},"legend":{"orient":"bottom","direction":"horizontal","gradientLength":130,"gradientThickness":10,"title":null,"values":[0,6],"labelExpr":"datum.value==0?'0':format(datum.value,'.1f')","labelFontSize":8,"labelFontWeight":"bold","gradientStrokeColor":"#000","gradientStrokeWidth":0.8,"offset":4}}}},
        {"transform":[{"filter":"datum.t=='d'"}],"mark":{"type":"rect","color":"#000","stroke":"#000"}},
        {"transform":[{"filter":"datum.t!='d'"}],"mark":{"type":"text","fontSize":10,"fontWeight":"bold"},"encoding":{"text":{"field":"v","type":"nominal"},"color":{"condition":{"test":"datum.t=='nhs' && datum.v>2.5","value":"#ffffff"},"value":"#000000"}}}
       ],
       "resolve":{"scale":{"color":"independent","fill":"independent"}}
      },
      {"width":124,"height":118,
       "title":{"text":"RPL22A","subtitle":"Heat Shock (10 min)","fontSize":19,"fontStyle":"italic","subtitleColor":"#e3001b","subtitleFontWeight":"bold","subtitleFontSize":9.5,"subtitlePadding":2,"offset":3,"frame":"group"},
       "data":{"name":"heat"},"transform":[{"filter":"datum.g=='RPL22A'"}],
       "encoding":{
        "x":{"field":"c","type":"ordinal","scale":{"domain":["UAS","5'-end","Mid","3'-end"],"paddingInner":0,"paddingOuter":0},"axis":{"orient":"top","title":null,"labelAngle":0,"labelFontWeight":"bold","labelFontSize":9,"labelColor":"#000","ticks":false,"domain":false,"labelPadding":3}},
        "y":{"field":"r","type":"ordinal","scale":{"domain":["UAS","5'-end","Mid","3'-end"],"paddingInner":0,"paddingOuter":0},"axis":{"title":"Non-Heat Shock","titleColor":"#1f78c0","titleFontWeight":"bold","titleFontSize":9.5,"titlePadding":3,"labelFontWeight":"bold","labelFontSize":9,"labelColor":"#000","ticks":false,"domain":false,"labelPadding":2}}
       },
       "layer":[
        {"transform":[{"filter":"datum.t=='hs'"}],"mark":{"type":"rect","stroke":"#e3001b","strokeWidth":1.5},"encoding":{"color":{"field":"v","type":"quantitative","scale":{"domain":[0,9],"range":["#ffffff","#e3001b"]},"legend":{"orient":"right","direction":"vertical","gradientLength":88,"gradientThickness":9,"title":null,"values":[0,9],"labelExpr":"datum.value==0?'0':format(datum.value,'.1f')","labelFontSize":8,"labelFontWeight":"bold","gradientStrokeColor":"#000","gradientStrokeWidth":0.8,"offset":5}}}},
        {"transform":[{"filter":"datum.t=='nhs'"}],"mark":{"type":"rect","stroke":"#1f5f9f","strokeWidth":1.5},"encoding":{"fill":{"field":"v","type":"quantitative","scale":{"domain":[0,9],"range":["#ffffff","#1a86cc"]},"legend":{"orient":"bottom","direction":"horizontal","gradientLength":130,"gradientThickness":10,"title":null,"values":[0,9],"labelExpr":"datum.value==0?'0':format(datum.value,'.1f')","labelFontSize":8,"labelFontWeight":"bold","gradientStrokeColor":"#000","gradientStrokeWidth":0.8,"offset":4}}}},
        {"transform":[{"filter":"datum.t=='d'"}],"mark":{"type":"rect","color":"#000","stroke":"#000"}},
        {"transform":[{"filter":"datum.t!='d'"}],"mark":{"type":"text","fontSize":10,"fontWeight":"bold"},"encoding":{"text":{"field":"v","type":"nominal"},"color":{"condition":{"test":"datum.t=='nhs' && datum.v>2.5","value":"#ffffff"},"value":"#000000"}}}
       ],
       "resolve":{"scale":{"color":"independent","fill":"independent"}}
      }
     ]}
   ]
  }
 ]
}
]
}
